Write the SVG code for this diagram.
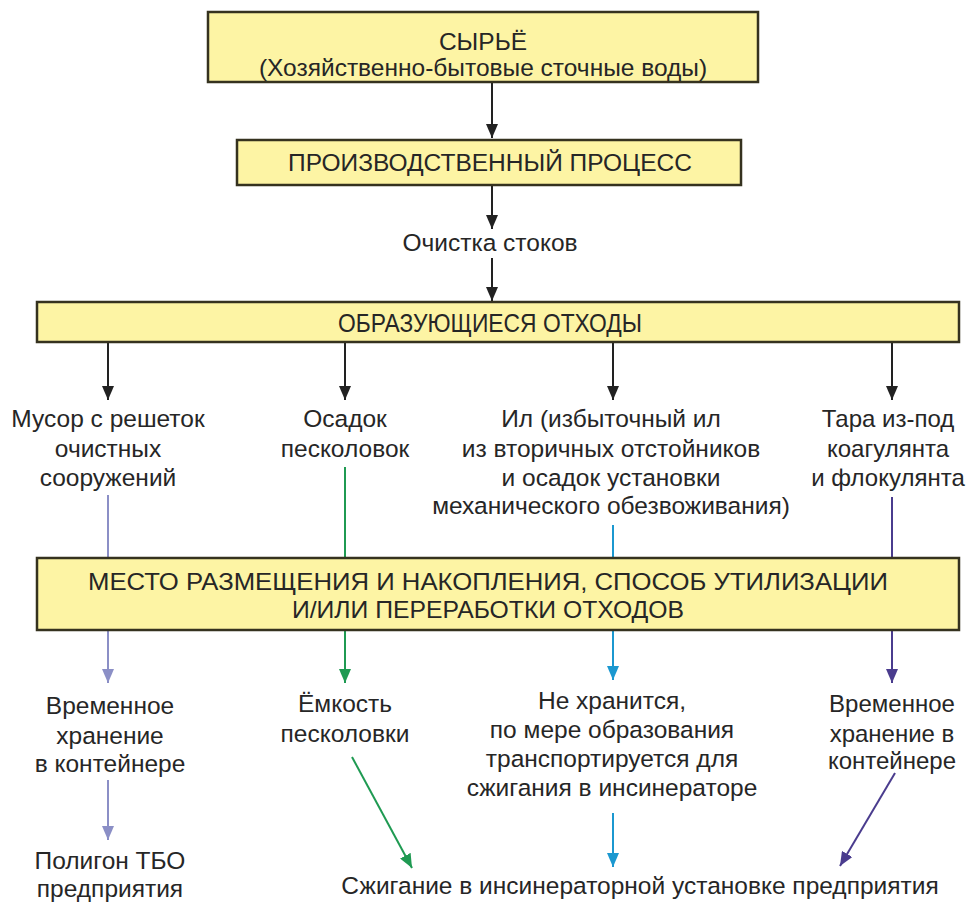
<svg xmlns="http://www.w3.org/2000/svg" width="966" height="903" viewBox="0 0 966 903">
  <defs>
    <style>
      .box { fill: #fdf4a4; stroke: #35321f; stroke-width: 2.5; }
      .t { font-family: "Liberation Sans", Arial, Helvetica, sans-serif; font-size: 24.5px; fill: #262626; text-anchor: middle; }
      .n { font-size: 26px; }
      .m { font-size: 24px; }
      .s { font-size: 24px; }
      .c { fill: none; stroke-width: 2; }
      .k { stroke: #222; }
      .lav { stroke: #8b8fc6; }
      .grn { stroke: #1f9a52; }
      .blu { stroke: #1b98d0; }
      .pur { stroke: #4a3c8e; }
    </style>
    <marker id="ak" markerUnits="userSpaceOnUse" markerWidth="14" markerHeight="12" refX="14" refY="6" orient="auto">
      <path d="M0,0 L14,6 L0,12 z" fill="#222"/>
    </marker>
    <marker id="alav" markerUnits="userSpaceOnUse" markerWidth="14" markerHeight="12" refX="14" refY="6" orient="auto">
      <path d="M0,0 L14,6 L0,12 z" fill="#8b8fc6"/>
    </marker>
    <marker id="agrn" markerUnits="userSpaceOnUse" markerWidth="14" markerHeight="12" refX="14" refY="6" orient="auto">
      <path d="M0,0 L14,6 L0,12 z" fill="#1f9a52"/>
    </marker>
    <marker id="ablu" markerUnits="userSpaceOnUse" markerWidth="14" markerHeight="12" refX="14" refY="6" orient="auto">
      <path d="M0,0 L14,6 L0,12 z" fill="#1b98d0"/>
    </marker>
    <marker id="apur" markerUnits="userSpaceOnUse" markerWidth="14" markerHeight="12" refX="14" refY="6" orient="auto">
      <path d="M0,0 L14,6 L0,12 z" fill="#4a3c8e"/>
    </marker>
  </defs>
  <rect width="966" height="903" fill="#ffffff"/>

  <!-- connectors -->
  <g id="connectors">
    <line class="c k" x1="492" y1="82" x2="492" y2="138" marker-end="url(#ak)"/>
    <line class="c k" x1="492" y1="185" x2="492" y2="229" marker-end="url(#ak)"/>
    <line class="c k" x1="492" y1="258" x2="492" y2="301" marker-end="url(#ak)"/>
    <line class="c k" x1="108" y1="342" x2="108" y2="400" marker-end="url(#ak)"/>
    <line class="c k" x1="345" y1="342" x2="345" y2="400" marker-end="url(#ak)"/>
    <line class="c k" x1="613" y1="342" x2="613" y2="400" marker-end="url(#ak)"/>
    <line class="c k" x1="892" y1="342" x2="892" y2="400" marker-end="url(#ak)"/>

    <line class="c lav" x1="108" y1="495" x2="108" y2="683" marker-end="url(#alav)"/>
    <line class="c lav" x1="108" y1="780" x2="108" y2="840" marker-end="url(#alav)"/>

    <line class="c grn" x1="345" y1="467" x2="345" y2="683" marker-end="url(#agrn)"/>
    <line class="c grn" x1="352" y1="757" x2="412" y2="868" marker-end="url(#agrn)"/>

    <line class="c blu" x1="613" y1="525" x2="613" y2="680" marker-end="url(#ablu)"/>
    <line class="c blu" x1="613" y1="813" x2="613" y2="867" marker-end="url(#ablu)"/>

    <line class="c pur" x1="892" y1="497" x2="892" y2="683" marker-end="url(#apur)"/>
    <line class="c pur" x1="895" y1="773" x2="840" y2="866" marker-end="url(#apur)"/>
  </g>

  <g id="raw">
    <rect class="box" x="208" y="12" width="550" height="70"/>
    <text class="t" x="483" y="50">СЫРЬЁ</text>
    <text class="t" x="483" y="76">(Хозяйственно-бытовые сточные воды)</text>
  </g>

  <g id="process">
    <rect class="box" x="237" y="140" width="504" height="45"/>
    <text class="t" x="490" y="171">ПРОИЗВОДСТВЕННЫЙ  ПРОЦЕСС</text>
  </g>

  <g id="treatment">
    <text class="t" x="490" y="251">Очистка стоков</text>
  </g>

  <g id="waste">
    <rect class="box" x="37" y="302" width="922" height="40"/>
    <text class="t n" x="490" y="332" textLength="304" lengthAdjust="spacingAndGlyphs">ОБРАЗУЮЩИЕСЯ  ОТХОДЫ</text>
  </g>

  <g id="w-screen">
    <text class="t" x="108" y="427">Мусор с решеток</text>
    <text class="t" x="108" y="457">очистных</text>
    <text class="t" x="108" y="486">сооружений</text>
  </g>
  <g id="w-sand">
    <text class="t" x="345" y="427">Осадок</text>
    <text class="t" x="345" y="457">песколовок</text>
  </g>
  <g id="w-sludge">
    <text class="t" x="611" y="427">Ил (избыточный ил</text>
    <text class="t" x="611" y="457">из вторичных отстойников</text>
    <text class="t" x="611" y="486">и осадок установки</text>
    <text class="t" x="611" y="514">механического обезвоживания)</text>
  </g>
  <g id="w-packaging">
    <text class="t s" x="888" y="427">Тара из-под</text>
    <text class="t s" x="888" y="457">коагулянта</text>
    <text class="t s" x="888" y="486">и флокулянта</text>
  </g>

  <g id="placement">
    <rect class="box" x="37" y="558" width="922" height="72"/>
    <text class="t m" x="488" y="590" textLength="800" lengthAdjust="spacingAndGlyphs">МЕСТО  РАЗМЕЩЕНИЯ  И  НАКОПЛЕНИЯ,  СПОСОБ УТИЛИЗАЦИИ</text>
    <text class="t m" x="488" y="618" textLength="392" lengthAdjust="spacingAndGlyphs">И/ИЛИ  ПЕРЕРАБОТКИ  ОТХОДОВ</text>
  </g>

  <g id="p-container1">
    <text class="t" x="110" y="714">Временное</text>
    <text class="t" x="110" y="744">хранение</text>
    <text class="t" x="110" y="772">в контейнере</text>
  </g>
  <g id="p-sandtank">
    <text class="t" x="345" y="712">Ёмкость</text>
    <text class="t" x="345" y="742">песколовки</text>
  </g>
  <g id="p-nostore">
    <text class="t" x="612" y="709">Не хранится,</text>
    <text class="t" x="612" y="738">по мере образования</text>
    <text class="t" x="612" y="767">транспортируется для</text>
    <text class="t" x="612" y="796">сжигания в инсинераторе</text>
  </g>
  <g id="p-container2">
    <text class="t s" x="892" y="712">Временное</text>
    <text class="t s" x="892" y="742">хранение в</text>
    <text class="t s" x="892" y="769">контейнере</text>
  </g>

  <g id="landfill">
    <text class="t" x="110" y="869">Полигон ТБО</text>
    <text class="t" x="110" y="897">предприятия</text>
  </g>
  <g id="incineration">
    <text class="t" x="640" y="894">Сжигание в инсинераторной установке предприятия</text>
  </g>
</svg>
